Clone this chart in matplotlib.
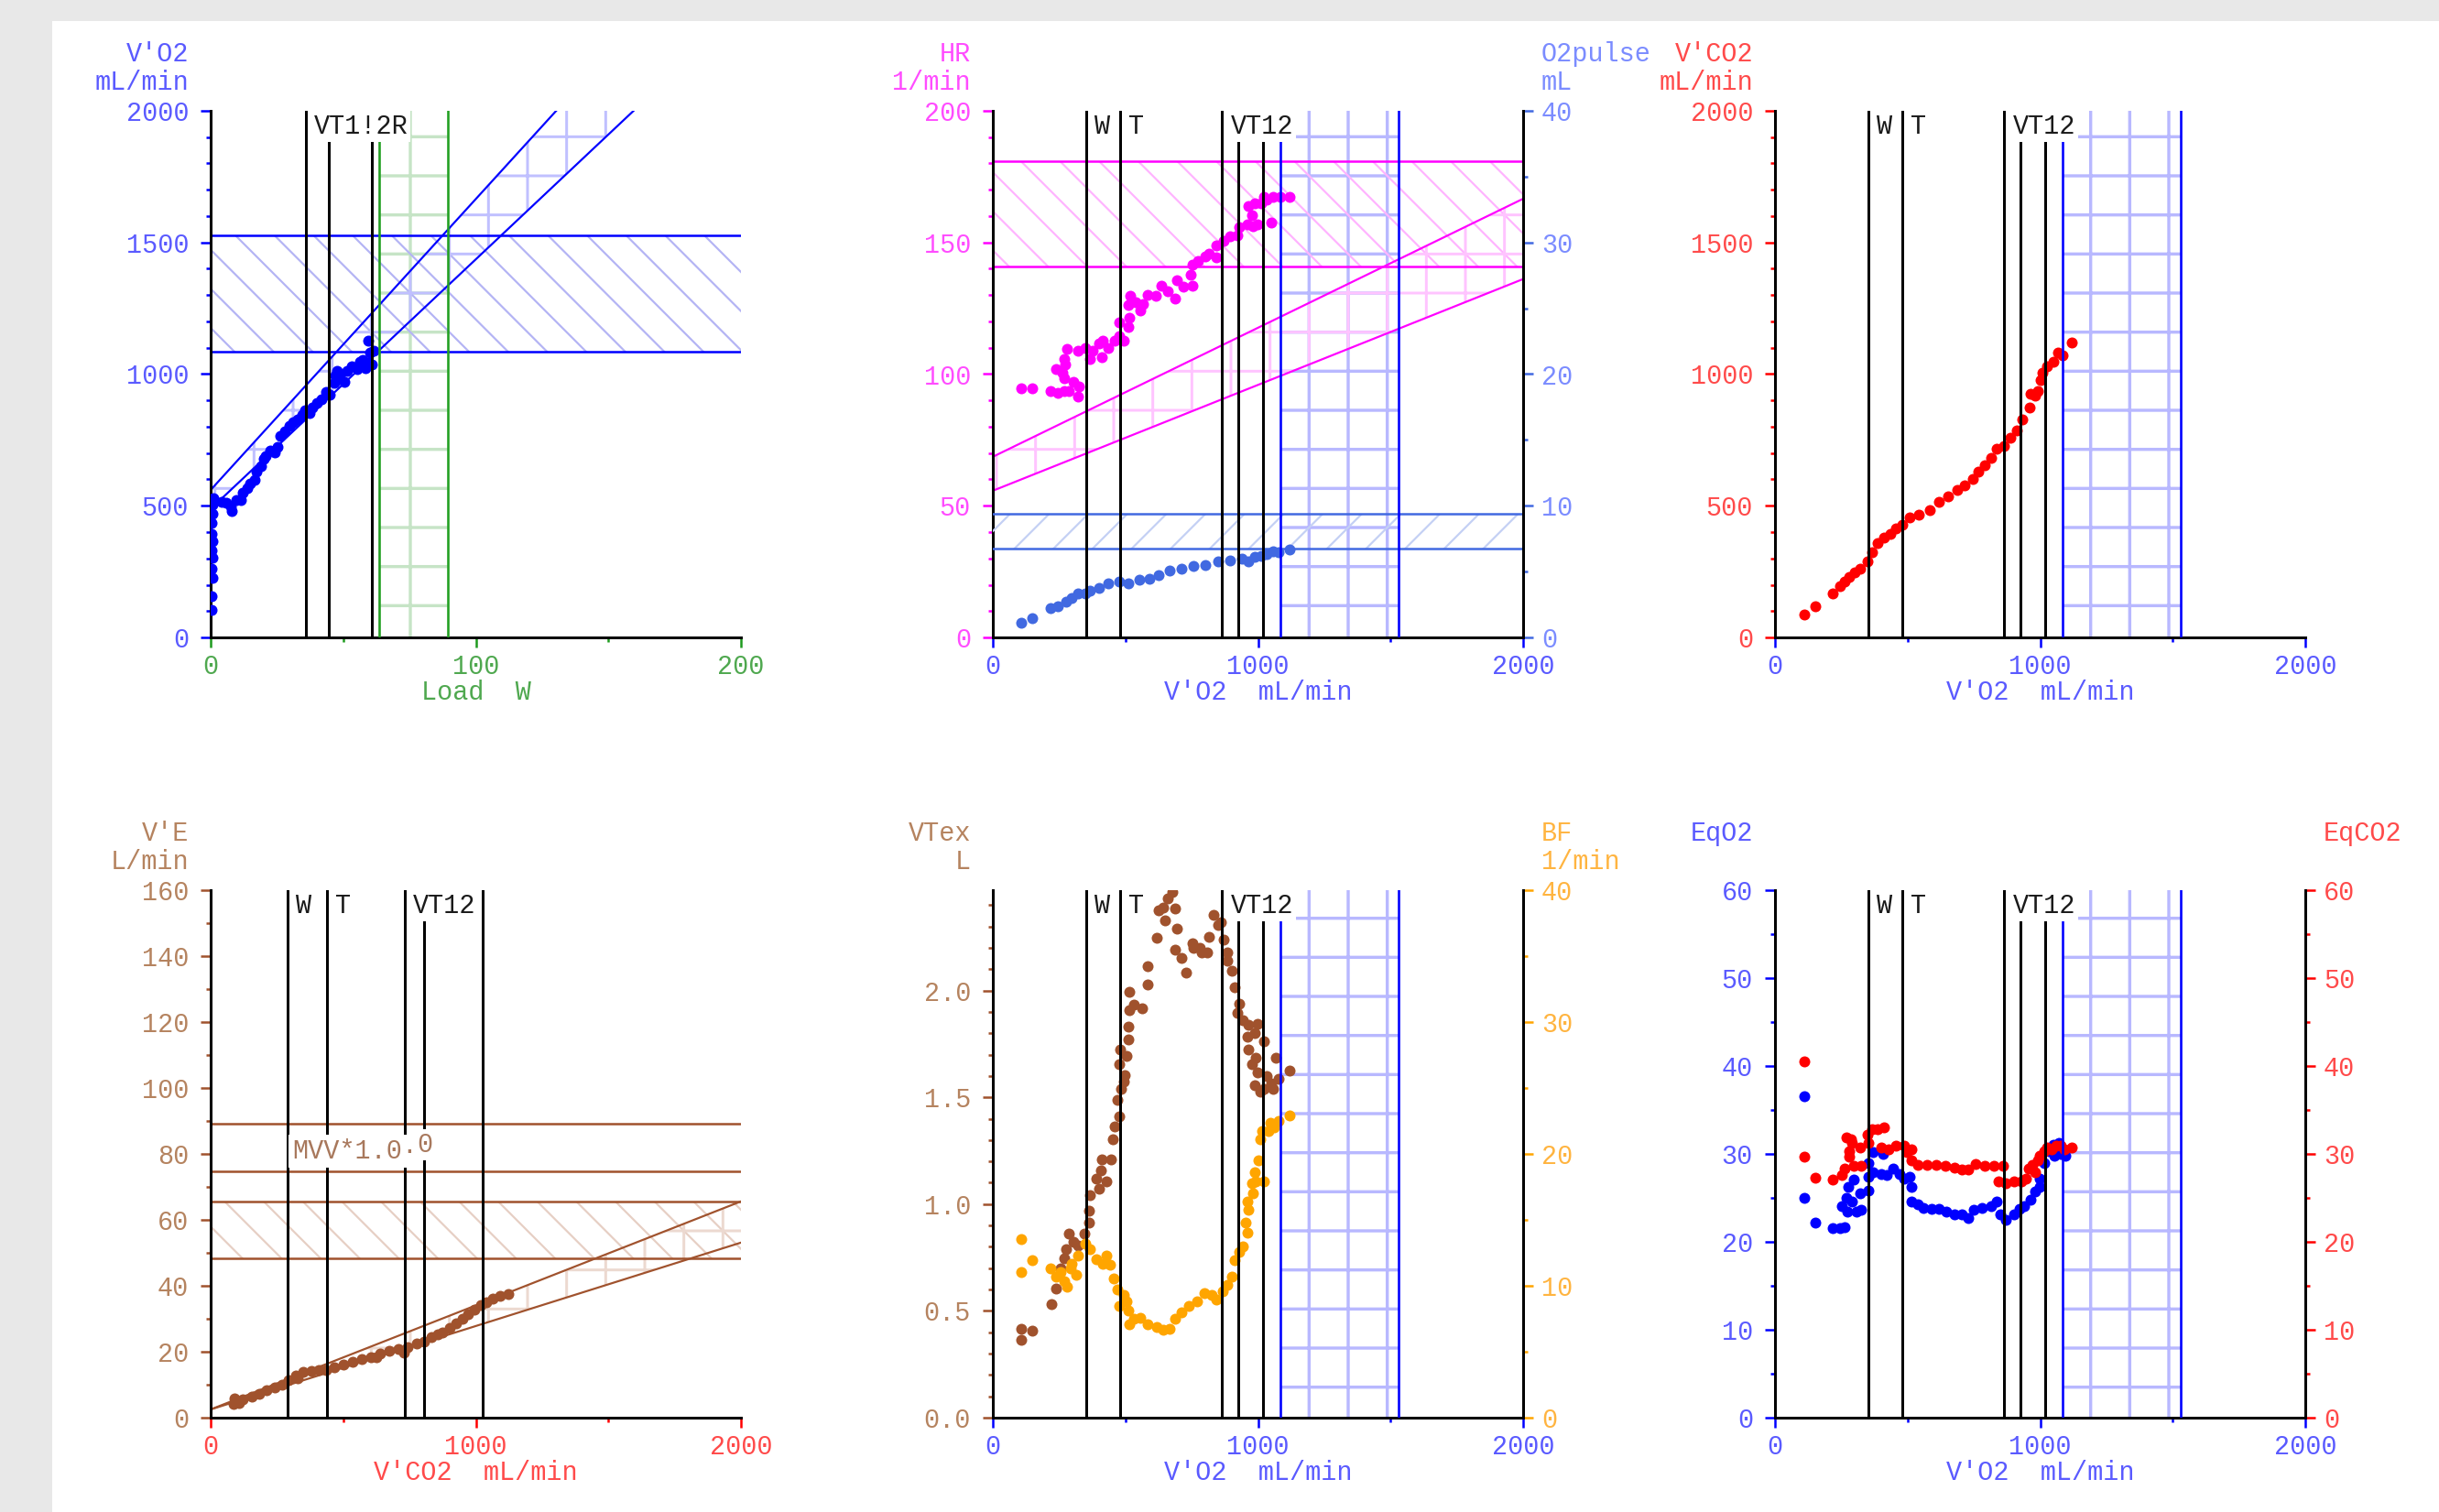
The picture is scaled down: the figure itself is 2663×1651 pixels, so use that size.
import matplotlib
matplotlib.use('Agg')
import matplotlib.pyplot as plt
from matplotlib.patches import Rectangle
from matplotlib.ticker import MultipleLocator, FormatStrFormatter

DPI = 256
W_PX, H_PX = 2663, 1651


def pt(p):
    # size in pixels -> points at the figure dpi
    return p * 72.0 / DPI


plt.rcParams['font.family'] = ['Liberation Mono', 'DejaVu Sans Mono']
plt.rcParams['font.size'] = pt(28.5)
plt.rcParams['axes.linewidth'] = pt(3)

# ---------------- thresholds and reference values ----------------
vo2_thresholds = [354, 481, 865, 925, 1020]
vo2_labels = [('W', 354), ('T', 481), ('VT12', 865)]
load_thresholds = [35.8, 44.4, 60.9]
load_labels = [('VT1!2R', 35.8)]
vco2_thresholds = [290, 437, 733, 806, 1025]
vco2_labels = [('W', 290), ('T', 437), ('VT12', 733)]
vo2_peak_zone = [1083, 1530]
load_peak_zone = [63.7, 89.6]

vo2_target_band = [1085, 1528]
load_ref = [0, 200]
vo2_ref_hi = [560, 2770]
vo2_ref_lo = [488, 2384]

hr_band = [141, 181]
vo2_ref = [0, 2000]
hr_ref_hi = [68.6, 166.6]
hr_ref_lo = [55.7, 136.1]
o2pulse_band = [6.72, 9.41]

mvv_lines = [89.2, 74.6]
ve_band = [48.4, 65.6]
vco2_ref = [0, 2000]
ve_ref_hi = [2.5, 65.6]
ve_ref_lo = [2.5, 53.1]

# ---------------- measured series ----------------
load_w = [0.5, 0.3, 0.6, 0.4, 0.7, 0.5, 0.6, 0.4, 0.5, 0.6, 0.8, 0.9,
          4.0, 5.7, 7.5, 8.0, 9.8, 11.5, 12.0, 13.8, 14.9, 16.6,
          17.2, 18.9, 20.1, 20.7, 22.4, 24.1, 25.2, 26.4, 28.1, 29.8,
          31.0, 32.7, 34.4, 35.6, 37.3, 38.5, 40.2, 41.9, 43.6, 44.8,
          46.5, 47.0, 47.6, 48.8, 50.5, 51.6, 53.3, 55.1, 56.2, 57.4,
          58.5, 59.1, 59.4, 60.2, 60.8, 61.4]
vo2_by_load = [105, 157, 227, 262, 302, 331, 365, 394, 435, 469, 504, 527,
               516, 510, 498, 481, 521, 521, 550, 568, 585, 597,
               631, 649, 677, 689, 710, 701, 724, 764, 782, 805,
               816, 828, 845, 862, 851, 874, 891, 903, 932, 920,
               966, 995, 1013, 990, 972, 1013, 1030, 1018, 1047, 1053,
               1024, 1042, 1128, 1082, 1036, 1088]

vo2_hr = [108, 150, 217, 246, 269, 286, 321, 323, 303, 269,
          240, 263, 272, 269, 280, 321, 349, 367, 378, 401,
          413, 410, 436, 459, 476, 476, 493, 510, 516, 510,
          518, 539, 556, 568, 585, 614, 637, 660, 686, 694,
          717, 752, 746, 752, 775, 803, 815, 844, 844, 872,
          895, 924, 930, 959, 982, 999, 976, 964, 987, 1011,
          1022, 1033, 1056, 1085, 1120, 1050]
hr = [94.6, 94.6, 93.7, 92.8, 93.7, 93.7, 91.4, 95.4, 97.2, 98.3,
      102, 100.6, 103.5, 105.8, 109.6, 109, 109.9, 105.8, 109, 111.7,
      112.8, 106.4, 109.9, 112.8, 114.6, 119.8, 112.8, 118, 121.5, 126.1,
      129.6, 127.3, 124, 126.7, 130.2, 129.9, 133.7, 131.4, 128.7, 135.7,
      133.1, 133.7, 137.7, 141.4, 143, 144.7, 145.9, 148.8, 144.2, 150.5,
      152.2, 152.8, 155.7, 156.9, 156.3, 156.9, 160.3, 163.8, 165, 165,
      167.3, 166.1, 167.3, 167.3, 167.3, 157.4]

vo2_o2p = [108, 150, 217, 246, 275, 298, 321, 349, 367, 401,
           436, 476, 510, 551, 591, 625, 666, 712, 757, 803,
           850, 895, 941, 964, 987, 1011, 1033, 1056, 1079, 1120]
o2pulse = [1.11, 1.46, 2.20, 2.39, 2.74, 2.97, 3.32, 3.32, 3.55, 3.78,
           4.08, 4.24, 4.13, 4.41, 4.48, 4.71, 5.06, 5.24, 5.40, 5.52,
           5.75, 5.87, 5.98, 5.75, 6.10, 6.21, 6.33, 6.56, 6.45, 6.68]

vo2_co2 = [110, 153, 218, 245, 262, 279, 302, 320, 348,
           365, 388, 411, 434, 457, 480, 509, 544, 584, 618,
           653, 687, 716, 745, 768, 791, 814, 837, 865, 888,
           911, 934, 961, 963, 980, 992, 1000, 1009, 1026, 1049,
           1067, 1084, 1118]
vco2 = [88, 119, 166, 195, 212, 230, 247, 262, 288,
        322, 357, 380, 394, 415, 429, 456, 467, 485, 514,
        537, 560, 577, 601, 630, 653, 682, 717, 728, 757,
        786, 827, 873, 925, 919, 937, 977, 1006, 1030, 1047,
        1082, 1070, 1120]

vco2_ve = [85, 91, 108, 120, 154, 183, 212, 241, 269,
           292, 321, 327, 350, 379, 408, 436, 465, 500, 534,
           569, 603, 626, 638, 672, 707, 730, 742, 776, 805,
           834, 857, 874, 903, 926, 949, 972, 995, 1018, 1041,
           1064, 1093, 1121]
ve = [4.1, 5.9, 4.5, 5.5, 6.4, 7.3, 8.2, 9.2, 10.1,
      11.5, 12.9, 11.9, 13.8, 14.3, 14.4, 14.4, 15.2, 16.1, 16.9,
      17.8, 18.4, 18.4, 19.4, 20.3, 20.7, 19.8, 21.5, 22.4, 23.1,
      24.4, 25.4, 25.8, 27.2, 28.6, 30.0, 31.4, 32.8, 34.2, 35.1,
      36.0, 36.9, 37.4]

vo2_vt = [108, 108, 150, 220, 240, 257, 269, 275, 286, 304,
          321, 344, 361, 361, 367, 401, 390, 407, 430, 445,
          410, 453, 461, 476, 470, 482, 493, 499, 476, 505,
          479, 510, 510, 516, 533, 562, 516, 585, 585, 617,
          625, 643, 648, 660, 677, 689, 694, 689, 712, 729,
          752, 758, 781, 786, 809, 815, 832, 850, 861, 872,
          884, 884, 901, 913, 930, 924, 942, 964, 999, 959,
          987, 1022, 965, 993, 976, 999, 987, 1022, 1033, 1051,
          1068, 1079, 1120, 1056, 1010]
vtex = [0.416, 0.365, 0.408, 0.533, 0.604, 0.699, 0.745, 0.791, 0.860, 0.822,
        0.806, 0.860, 0.913, 0.967, 1.044, 1.074, 1.120, 1.158, 1.105, 1.208,
        1.208, 1.304, 1.365, 1.411, 1.488, 1.541, 1.572, 1.602, 1.656, 1.694,
        1.725, 1.771, 1.832, 1.909, 1.932, 1.916, 1.993, 2.028, 2.116, 2.246,
        2.376, 2.39, 2.330, 2.430, 2.463, 2.384, 2.292, 2.192, 2.154, 2.085,
        2.223, 2.20, 2.20, 2.177, 2.18, 2.253, 2.353, 2.307, 2.32, 2.238,
        2.18, 2.138, 2.093, 2.016, 1.940, 1.894, 1.863, 1.840, 1.845, 1.786,
        1.80, 1.763, 1.725, 1.687, 1.656, 1.618, 1.557, 1.541, 1.60, 1.564,
        1.687, 1.587, 1.626, 1.54, 1.526]

vo2_bf = [108, 108, 150, 217, 240, 257, 269, 280, 292, 298,
          315, 321, 349, 367, 390, 413, 430, 441, 456, 470,
          476, 493, 505, 510, 516, 533, 556, 585, 620, 643,
          666, 688, 712, 740, 769, 798, 827, 844, 867, 884,
          901, 913, 930, 942, 959, 953, 965, 959, 982, 976,
          993, 987, 1001, 1022, 1010, 1016, 1039, 1045, 1062, 1079, 1120]
bf = [13.55, 11.07, 11.94, 11.32, 10.70, 11.07, 10.33, 9.96, 11.32, 11.69,
      10.83, 12.31, 13.18, 12.81, 12.0, 11.69, 12.31, 11.57, 10.58, 9.71,
      8.47, 9.33, 8.84, 8.10, 7.10, 7.47, 7.60, 7.10, 6.85, 6.66,
      6.75, 7.47, 7.97, 8.47, 8.84, 9.46, 9.33, 8.97, 9.6, 10.08,
      10.70, 11.94, 12.56, 13.0, 14.05, 14.79, 15.78, 16.40, 17.02, 17.77,
      17.9, 18.64, 19.51, 17.9, 21.12, 21.74, 21.74, 22.35, 22.0, 22.5, 22.9]

vo2_eqo2 = [110, 110, 153, 218, 245, 263, 251, 268, 276, 274,
            291, 297, 308, 320, 325, 352, 352, 354, 371, 406,
            371, 400, 423, 446, 469, 486, 509, 515, 513, 538,
            561, 590, 618, 647, 676, 705, 728, 751, 780, 814,
            837, 849, 872, 901, 924, 941, 963, 980, 998, 998,
            1015, 1032, 1049, 1072, 1055, 1078, 1095]
eqo2 = [36.6, 24.97, 22.2, 21.6, 21.6, 21.7, 24.1, 25.0, 26.2, 23.4,
        24.6, 27.1, 23.4, 25.5, 23.6, 25.8, 27.4, 29.0, 30.2, 30.0,
        27.9, 27.7, 27.6, 28.3, 27.7, 27.2, 27.4, 26.2, 24.6, 24.3,
        23.9, 23.8, 23.8, 23.4, 23.1, 23.1, 22.7, 23.6, 23.9, 24.1,
        24.6, 23.1, 22.5, 23.1, 23.8, 24.1, 24.8, 25.7, 26.2, 27.2,
        29.0, 30.3, 31.0, 31.2, 29.8, 30.0, 29.8]

vo2_eqco2 = [110, 110, 153, 216, 251, 263, 268, 285, 279, 291,
             279, 297, 320, 325, 348, 354, 365, 388, 411, 400,
             429, 457, 486, 498, 515, 515, 538, 572, 607, 641,
             676, 705, 728, 756, 791, 825, 860, 843, 871, 900,
             928, 946, 957, 969, 980, 992, 998, 1015, 1026, 1044,
             1061, 1078, 1090, 1118]
eqco2 = [40.5, 29.7, 27.3, 27.1, 27.6, 28.3, 31.9, 31.7, 30.3, 31.2,
         29.7, 28.6, 30.7, 28.6, 32.2, 31.2, 32.8, 32.8, 33.0, 30.7,
         30.5, 30.9, 30.9, 30.2, 30.5, 29.3, 28.8, 28.8, 28.8, 28.6,
         28.4, 28.2, 28.2, 28.9, 28.6, 28.6, 28.6, 26.9, 26.7, 26.9,
         26.9, 27.2, 28.3, 28.8, 27.9, 29.3, 29.8, 30.3, 30.7, 30.5,
         30.9, 30.9, 30.5, 30.7]

# colours: (mark colour, text colour)
BLUE = ('#0000ff', '#5a5aff')
GREEN = ('#1f9a1f', '#4fa84f')
MAGENTA = ('#ff00ff', '#ff4cff')
O2P = ('#4169e1', '#7b8cff')
RED = ('#ff0000', '#ff4a4a')
BROWN = ('#a0522d', '#b5835f')
ORANGE = ('#ffa500', '#ffb440')

ZONE_HATCH = '#b8b8ff'

COL_LEFT = [230, 1084, 1938]
AX_W = 579
ROWS = [(955, 575), (103, 576)]

fig = plt.figure(figsize=(W_PX / DPI, H_PX / DPI), dpi=DPI, facecolor='#e8e8e8')
fig.add_artist(Rectangle((57 / W_PX, 0), 1 - 57 / W_PX, (H_PX - 23) / H_PX,
                         transform=fig.transFigure, facecolor='white',
                         edgecolor='none', zorder=-10))


def new_axes(col, row):
    bottom, height = ROWS[row]
    ax = fig.add_axes([COL_LEFT[col] / W_PX, bottom / H_PX, AX_W / W_PX, height / H_PX])
    ax.set_facecolor('white')
    for s in ('top', 'right'):
        ax.spines[s].set_visible(False)
    return ax


def twin(ax):
    ax2 = ax.twinx()
    for s in ('top', 'left', 'bottom'):
        ax2.spines[s].set_visible(False)
    ax2.spines['right'].set_color('black')
    return ax2


def style_y(ax, lim, major, minor, colors, side='left', fmt='%d'):
    ax.set_ylim(*lim)
    ax.yaxis.set_major_locator(MultipleLocator(major))
    ax.yaxis.set_minor_locator(MultipleLocator(minor))
    ax.yaxis.set_major_formatter(FormatStrFormatter(fmt))
    pad = 13 if side == 'left' else 9
    ax.tick_params(axis='y', which='major', direction='out', length=pt(11), width=pt(2.5),
                   color=colors[0], labelcolor=colors[1], pad=pt(pad))
    ax.tick_params(axis='y', which='minor', direction='out', length=pt(5), width=pt(2.5),
                   color=colors[0])


def style_x(ax, lim, major, minor, colors, title):
    ax.set_xlim(*lim)
    ax.xaxis.set_major_locator(MultipleLocator(major))
    ax.xaxis.set_minor_locator(MultipleLocator(minor))
    ax.tick_params(axis='x', which='major', direction='out', length=pt(11), width=pt(2.5),
                   color=colors[0], labelcolor=colors[1], pad=pt(7))
    ax.tick_params(axis='x', which='minor', direction='out', length=pt(5), width=pt(2.5),
                   color=colors[0])
    ax.annotate(title, xy=(0.5, 0), xycoords='axes fraction', xytext=(0, -60),
                textcoords='offset pixels', ha='center', va='center', color=colors[1])


def y_title(ax, lines, color, side='left'):
    for i, s in enumerate(lines):
        if side == 'left':
            xy, dx, ha = (0, 1), -24, 'right'
        else:
            xy, dx, ha = (1, 1), 20, 'left'
        ax.annotate(s, xy=xy, xycoords='axes fraction', xytext=(dx, 62 - 31 * i),
                    textcoords='offset pixels', ha=ha, va='center', color=color,
                    annotation_clip=False)


def hatch_lw(art, lw_px):
    if hasattr(art, 'set_hatch_linewidth'):
        art.set_hatch_linewidth(pt(lw_px))
    return art


def vzone(ax, span, color, lw_px=3.4):
    with plt.rc_context({'hatch.linewidth': pt(lw_px)}):
        r = ax.axvspan(span[0], span[1], facecolor='none', edgecolor=color,
                       hatch='+', linewidth=0, zorder=0.5)
    hatch_lw(r, lw_px)


def hband(ax, band, line_color, hatch_color, hatch, lw_px=2.2):
    with plt.rc_context({'hatch.linewidth': pt(lw_px)}):
        r = ax.axhspan(band[0], band[1], facecolor='none', edgecolor=hatch_color,
                       hatch=hatch, linewidth=0, zorder=1)
    hatch_lw(r, lw_px)
    for y in band:
        ax.axhline(y, color=line_color, lw=pt(2.5), zorder=2)


def diag_band(ax, x, lo, hi, line_color, hatch_color, lw_px=3.0):
    with plt.rc_context({'hatch.linewidth': pt(lw_px)}):
        c = ax.fill_between(x, lo, hi, facecolor='none', edgecolor=hatch_color,
                            hatch='+', linewidth=0, zorder=1)
    hatch_lw(c, lw_px)
    ax.plot(x, lo, color=line_color, lw=pt(2.2), zorder=2)
    ax.plot(x, hi, color=line_color, lw=pt(2.2), zorder=2)


def dots(ax, x, y, color):
    ax.plot(x, y, 'o', color=color, ms=pt(12), mew=0, zorder=3)


def thresholds(ax, xs, labels, zone=None, zone_color='#0000ff'):
    for x in xs:
        ax.axvline(x, color='black', lw=pt(3), zorder=6)
    if zone is not None:
        for x in zone:
            ax.axvline(x, color=zone_color, lw=pt(2.6), zorder=6)
    for text, x in labels:
        ax.annotate(text, xy=(x, 1.0), xycoords=ax.get_xaxis_transform(),
                    xytext=(9, -17), textcoords='offset pixels', ha='left', va='center',
                    color='#1a1a1a', zorder=12,
                    bbox=dict(boxstyle='square,pad=0.1', fc='white', ec='none'))


# ---------------- top-left: V'O2 vs load ----------------
ax = new_axes(0, 0)
vzone(ax, load_peak_zone, '#c6e4c6')
hband(ax, vo2_target_band, '#0000ff', '#b4b4f4', '\\\\')
diag_band(ax, load_ref, vo2_ref_lo, vo2_ref_hi, '#0000ff', '#c0c0ff')
dots(ax, load_w, vo2_by_load, BLUE[0])
thresholds(ax, load_thresholds, load_labels, zone=load_peak_zone, zone_color='#22a022')
style_y(ax, (0, 2000), 500, 100, BLUE)
style_x(ax, (0, 200), 100, 50, GREEN, "Load  W")
y_title(ax, ["V'O2", "mL/min"], BLUE[1])

# ---------------- top-middle: HR and O2pulse ----------------
ax = new_axes(1, 0)
ax2 = twin(ax)
vzone(ax, vo2_peak_zone, ZONE_HATCH)
hband(ax, hr_band, '#ff00ff', '#ffb4ff', '\\\\')
diag_band(ax, vo2_ref, hr_ref_lo, hr_ref_hi, '#ff00ff', '#ffc4ff')
dots(ax, vo2_hr, hr, MAGENTA[0])
hband(ax2, o2pulse_band, '#4169e1', '#c4d0f4', '//')
dots(ax2, vo2_o2p, o2pulse, O2P[0])
thresholds(ax2, vo2_thresholds, vo2_labels, zone=vo2_peak_zone)
style_y(ax, (0, 200), 50, 10, MAGENTA)
style_y(ax2, (0, 40), 10, 5, O2P, side='right')
style_x(ax, (0, 2000), 1000, 500, BLUE, "V'O2  mL/min")
y_title(ax, ["HR", "1/min"], MAGENTA[1])
y_title(ax2, ["O2pulse", "mL"], O2P[1], side='right')

# ---------------- top-right: V'CO2 ----------------
ax = new_axes(2, 0)
vzone(ax, vo2_peak_zone, ZONE_HATCH)
dots(ax, vo2_co2, vco2, RED[0])
thresholds(ax, vo2_thresholds, vo2_labels, zone=vo2_peak_zone)
style_y(ax, (0, 2000), 500, 100, RED)
style_x(ax, (0, 2000), 1000, 500, BLUE, "V'O2  mL/min")
y_title(ax, ["V'CO2", "mL/min"], RED[1])

# ---------------- bottom-left: V'E vs V'CO2 ----------------
ax = new_axes(0, 1)
for y in mvv_lines:
    ax.axhline(y, color=BROWN[0], lw=pt(2.5), zorder=2)
hband(ax, ve_band, BROWN[0], '#e6cfc4', '\\\\')
diag_band(ax, vco2_ref, ve_ref_lo, ve_ref_hi, BROWN[0], '#ecd9d0')
dots(ax, vco2_ve, ve, BROWN[0])
thresholds(ax, vco2_thresholds, vco2_labels)
ax.annotate('MVV*1.0\u00b7', xy=(307, 80.8), xycoords='data', ha='left', va='center',
            color='#a8785c', zorder=12,
            bbox=dict(boxstyle='square,pad=0.15', fc='white', ec='none'))
ax.annotate('0', xy=(307, 80.8), xycoords='data', xytext=(8 * 17.1, 7),
            textcoords='offset pixels', ha='left', va='center', color='#a8785c', zorder=12,
            bbox=dict(boxstyle='square,pad=0.1', fc='white', ec='none'))
style_y(ax, (0, 160), 20, 10, BROWN)
style_x(ax, (0, 2000), 1000, 500, RED, "V'CO2  mL/min")
y_title(ax, ["V'E", "L/min"], BROWN[1])

# ---------------- bottom-middle: VTex and BF ----------------
ax = new_axes(1, 1)
ax2 = twin(ax)
vzone(ax, vo2_peak_zone, ZONE_HATCH)
dots(ax, vo2_vt, vtex, BROWN[0])
dots(ax2, vo2_bf, bf, ORANGE[0])
thresholds(ax2, vo2_thresholds, vo2_labels, zone=vo2_peak_zone)
style_y(ax, (0, 2.47), 0.5, 0.1, BROWN, fmt='%.1f')
style_y(ax2, (0, 40), 10, 5, ORANGE, side='right')
style_x(ax, (0, 2000), 1000, 500, BLUE, "V'O2  mL/min")
y_title(ax, ["VTex", "L"], BROWN[1])
y_title(ax2, ["BF", "1/min"], ORANGE[1], side='right')

# ---------------- bottom-right: EqO2 and EqCO2 ----------------
ax = new_axes(2, 1)
ax2 = twin(ax)
vzone(ax, vo2_peak_zone, ZONE_HATCH)
dots(ax, vo2_eqo2, eqo2, BLUE[0])
dots(ax2, vo2_eqco2, eqco2, RED[0])
thresholds(ax2, vo2_thresholds, vo2_labels, zone=vo2_peak_zone)
style_y(ax, (0, 60), 10, 5, BLUE)
style_y(ax2, (0, 60), 10, 5, RED, side='right')
style_x(ax, (0, 2000), 1000, 500, BLUE, "V'O2  mL/min")
y_title(ax, ["EqO2"], BLUE[1])
y_title(ax2, ["EqCO2"], RED[1], side='right')

fig.savefig('out.png', dpi=DPI, facecolor=fig.get_facecolor())
